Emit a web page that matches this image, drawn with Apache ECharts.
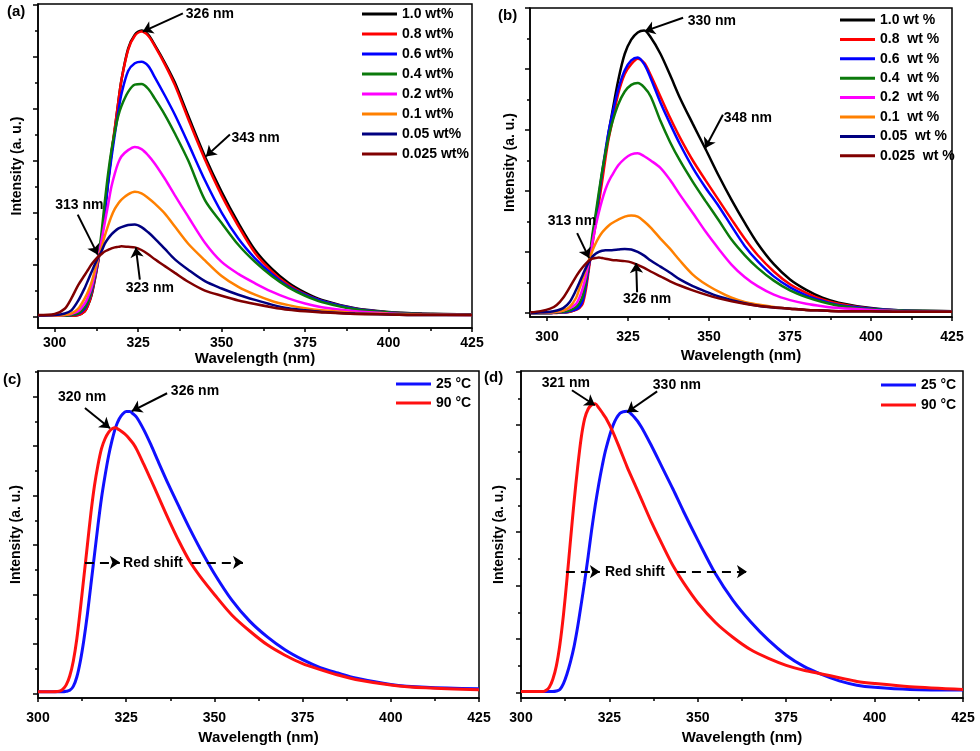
<!DOCTYPE html>
<html>

<head>
  <meta charset="utf-8" />
  <title>PL spectra</title>
  <script src="https://cdn.jsdelivr.net/npm/echarts@6.0.0/dist/echarts.min.js"></script>
  <style>
    body {
      margin: 0;
      background-color: #ffffff;
    }
  </style>
</head>

<body>
  <div id="main" style="width: 980px;height:751px;"></div>
  <script type="text/javascript">
    // ---- data (intensity in arbitrary units, 1 = one major tick) ----
    var xTicks = [300, 325, 350, 375, 400, 425];
    var xMinorTicks = [312.5, 337.5, 362.5, 387.5, 412.5];
    var yTicksA = [0, 1, 2, 3, 4, 5, 6];
    var yMinorA = [0.5, 1.5, 2.5, 3.5, 4.5, 5.5];
    var yTicksB = [0, 1, 2, 3, 4, 5];
    var yMinorB = [0.5, 1.5, 2.5, 3.5, 4.5];
    var yTicksC = [0, 1, 2, 3, 4, 5, 6];
    var yMinorC = [0.5, 1.5, 2.5, 3.5, 4.5, 5.5, 6.5];
    var yTicksD = [0, 1, 2, 3, 4, 5, 6];
    var yMinorD = [0.5, 1.5, 2.5, 3.5, 4.5, 5.5];

    var namesA = ['1.0 wt%', '0.8 wt%', '0.6 wt%', '0.4 wt%', '0.2 wt%', '0.1 wt%', '0.05 wt%', '0.025 wt%'];
    var namesB = ['1.0 wt %', '0.8  wt %', '0.6  wt %', '0.4  wt %', '0.2  wt %', '0.1  wt %', '0.05  wt %', '0.025  wt %'];
    var namesT = ['25 °C', '90 °C'];

    // (a)
    var wlA = [295, 300, 303, 305, 307, 309, 310, 311, 312, 313, 314, 315, 316, 317, 318, 319, 320, 322, 324, 326,
      328, 330, 333, 336, 340, 345, 350, 355, 360, 365, 370, 375, 380, 390, 400, 410, 425];
    var a10 = [0.02, 0.02, 0.02, 0.02, 0.03, 0.1, 0.22, 0.4, 0.7, 1.05, 1.45, 2.0, 2.6, 3.13, 3.6, 4.1, 4.55, 5.15, 5.42, 5.5,
      5.42, 5.22, 4.88, 4.5, 3.86, 3.08, 2.4, 1.8, 1.28, 0.92, 0.65, 0.46, 0.32, 0.16, 0.09, 0.06, 0.04];
    var a08 = [0.02, 0.02, 0.02, 0.02, 0.03, 0.1, 0.22, 0.42, 0.72, 1.05, 1.48, 2.05, 2.62, 3.15, 3.62, 4.1, 4.55, 5.13, 5.4, 5.48,
      5.4, 5.2, 4.85, 4.45, 3.8, 3.02, 2.33, 1.74, 1.22, 0.87, 0.61, 0.43, 0.3, 0.15, 0.08, 0.05, 0.04];
    var a06 = [0.02, 0.02, 0.02, 0.03, 0.05, 0.15, 0.28, 0.47, 0.75, 1.08, 1.5, 2.0, 2.55, 3.05, 3.5, 3.92, 4.28, 4.72, 4.87, 4.9,
      4.82, 4.6, 4.25, 3.88, 3.33, 2.62, 2.0, 1.5, 1.12, 0.82, 0.58, 0.42, 0.3, 0.15, 0.08, 0.05, 0.04];
    var a04 = [0.02, 0.02, 0.02, 0.03, 0.06, 0.18, 0.3, 0.5, 0.8, 1.12, 1.6, 2.2, 2.75, 3.2, 3.55, 3.85, 4.05, 4.32, 4.46, 4.47,
      4.38, 4.19, 3.88, 3.52, 3.0, 2.24, 1.8, 1.38, 1.05, 0.78, 0.56, 0.4, 0.28, 0.14, 0.08, 0.05, 0.04];
    var a02 = [0.02, 0.02, 0.03, 0.05, 0.1, 0.25, 0.38, 0.55, 0.82, 1.12, 1.45, 1.8, 2.15, 2.5, 2.75, 2.95, 3.08, 3.2, 3.26, 3.22,
      3.1, 2.94, 2.65, 2.33, 1.92, 1.42, 1.05, 0.82, 0.64, 0.48, 0.35, 0.25, 0.18, 0.1, 0.06, 0.04, 0.03];
    var a01 = [0.02, 0.02, 0.03, 0.06, 0.15, 0.35, 0.48, 0.65, 0.88, 1.12, 1.32, 1.55, 1.75, 1.93, 2.07, 2.17, 2.25, 2.35, 2.4, 2.37,
      2.28, 2.17, 1.98, 1.73, 1.4, 1.08, 0.78, 0.57, 0.42, 0.3, 0.22, 0.16, 0.12, 0.07, 0.05, 0.04, 0.03];
    var a005 = [0.02, 0.03, 0.06, 0.12, 0.3, 0.55, 0.7, 0.85, 1.0, 1.13, 1.25, 1.4, 1.5, 1.58, 1.64, 1.69, 1.72, 1.76, 1.77, 1.72,
      1.62, 1.5, 1.3, 1.1, 0.9, 0.68, 0.54, 0.42, 0.32, 0.23, 0.16, 0.12, 0.09, 0.06, 0.04, 0.03, 0.03];
    var a0025 = [0.03, 0.05, 0.15, 0.35, 0.6, 0.8, 0.9, 1.0, 1.08, 1.15, 1.2, 1.25, 1.28, 1.31, 1.33, 1.34, 1.35, 1.34, 1.33, 1.28,
      1.2, 1.1, 0.97, 0.84, 0.67, 0.5, 0.4, 0.31, 0.24, 0.18, 0.13, 0.1, 0.08, 0.05, 0.04, 0.03, 0.03];

    // (b)
    var wlB = [295, 298, 301, 303, 305, 307, 309, 310, 311, 312, 313, 314, 315, 316, 317, 318, 319, 320, 322, 324,
      326, 328, 330, 332, 335, 338, 341, 345, 349, 353, 357, 361, 365, 370, 375, 380, 385, 390, 400, 410, 425];
    var b10 = [0, 0, 0, 0.01, 0.01, 0.02, 0.06, 0.1, 0.22, 0.45, 0.8, 1.18, 1.5, 1.88, 2.27, 2.6, 2.95, 3.25, 3.82, 4.25,
      4.48, 4.6, 4.63, 4.52, 4.25, 3.9, 3.53, 3.1, 2.68, 2.25, 1.85, 1.48, 1.14, 0.8, 0.55, 0.38, 0.25, 0.17, 0.08, 0.04, 0.02];
    var b08 = [0, 0, 0, 0, 0.01, 0.02, 0.05, 0.08, 0.15, 0.38, 0.75, 1.12, 1.45, 1.8, 2.15, 2.52, 2.85, 3.1, 3.6, 3.92,
      4.08, 4.17, 4.1, 3.9, 3.55, 3.2, 2.88, 2.5, 2.17, 1.85, 1.53, 1.22, 0.95, 0.68, 0.47, 0.33, 0.22, 0.15, 0.07, 0.04, 0.03];
    var b06 = [0, 0, 0, 0.01, 0.01, 0.03, 0.06, 0.1, 0.2, 0.45, 0.8, 1.22, 1.55, 1.92, 2.3, 2.65, 2.97, 3.22, 3.67, 3.98,
      4.14, 4.19, 4.08, 3.85, 3.45, 3.1, 2.77, 2.38, 2.05, 1.75, 1.42, 1.1, 0.85, 0.6, 0.42, 0.29, 0.2, 0.13, 0.07, 0.04, 0.03];
    var b04 = [0, 0, 0, 0.01, 0.02, 0.04, 0.1, 0.16, 0.28, 0.52, 0.85, 1.28, 1.62, 1.98, 2.32, 2.62, 2.88, 3.1, 3.42, 3.63,
      3.74, 3.77, 3.7, 3.55, 3.15, 2.8, 2.5, 2.15, 1.83, 1.52, 1.2, 0.95, 0.74, 0.53, 0.37, 0.26, 0.18, 0.12, 0.06, 0.04, 0.03];
    var b02 = [0, 0.01, 0.01, 0.02, 0.04, 0.08, 0.15, 0.25, 0.4, 0.6, 0.87, 1.15, 1.42, 1.65, 1.85, 2.02, 2.15, 2.25, 2.42, 2.53,
      2.6, 2.62, 2.57, 2.5, 2.38, 2.18, 1.94, 1.64, 1.33, 1.05, 0.79, 0.59, 0.44, 0.3, 0.21, 0.15, 0.11, 0.08, 0.05, 0.03, 0.02];
    var b01 = [0, 0.01, 0.01, 0.02, 0.04, 0.1, 0.25, 0.4, 0.55, 0.72, 0.88, 1.02, 1.14, 1.24, 1.32, 1.38, 1.43, 1.47, 1.53, 1.58,
      1.6, 1.58, 1.5, 1.4, 1.22, 1.05, 0.86, 0.63, 0.47, 0.35, 0.25, 0.18, 0.14, 0.1, 0.07, 0.05, 0.04, 0.03, 0.03, 0.02, 0.02];
    var b005 = [0, 0.01, 0.02, 0.04, 0.08, 0.18, 0.38, 0.5, 0.62, 0.74, 0.84, 0.92, 0.97, 1.0, 1.02, 1.03, 1.03, 1.03, 1.04, 1.05,
      1.04, 1.0, 0.94, 0.86, 0.76, 0.66, 0.55, 0.44, 0.35, 0.27, 0.21, 0.16, 0.12, 0.09, 0.07, 0.05, 0.04, 0.03, 0.03, 0.02, 0.02];
    var b0025 = [0.01, 0.03, 0.07, 0.13, 0.25, 0.42, 0.6, 0.68, 0.75, 0.81, 0.86, 0.89, 0.9, 0.91, 0.9, 0.89, 0.88, 0.87, 0.86, 0.85,
      0.83, 0.79, 0.74, 0.68, 0.6, 0.52, 0.45, 0.37, 0.3, 0.24, 0.19, 0.15, 0.12, 0.09, 0.07, 0.05, 0.04, 0.03, 0.03, 0.02, 0.02];

    // (c)
    var wlC = [300, 303, 306, 307, 308, 309, 310, 311, 312, 313, 314, 315, 316, 317, 318, 319, 320, 321, 322, 323,
      324, 325, 326, 327, 328, 330, 332, 334, 337, 340, 343, 346, 350, 355, 360, 365, 370, 375, 380, 385, 390, 400, 410, 425];
    var c25 = [0.03, 0.03, 0.03, 0.03, 0.04, 0.06, 0.14, 0.33, 0.65, 1.08, 1.6, 2.2, 2.8, 3.4, 3.95, 4.4, 4.8, 5.12, 5.38, 5.55,
      5.65, 5.7, 5.7, 5.65, 5.58, 5.33, 5.03, 4.7, 4.22, 3.77, 3.33, 2.92, 2.42, 1.88, 1.46, 1.14, 0.88, 0.68, 0.52, 0.41, 0.31, 0.18, 0.12, 0.09];
    var c90 = [0.03, 0.03, 0.04, 0.08, 0.17, 0.35, 0.65, 1.1, 1.7, 2.35, 3.0, 3.65, 4.2, 4.62, 4.95, 5.15, 5.28, 5.35, 5.37, 5.33,
      5.28, 5.22, 5.14, 5.05, 4.93, 4.63, 4.32, 4.0, 3.52, 3.07, 2.67, 2.36, 2.0, 1.58, 1.26, 0.98, 0.77, 0.6, 0.48, 0.37, 0.28, 0.17, 0.11, 0.07];

    // (d)
    var wlD = [300, 303, 306, 307, 308, 309, 310, 311, 312, 313, 314, 315, 316, 317, 318, 319, 320, 321, 322, 323,
      324, 326, 328, 330, 332, 334, 337, 340, 343, 346, 350, 355, 360, 365, 370, 375, 380, 385, 390, 395, 400, 410, 425];
    var d25 = [0.02, 0.02, 0.02, 0.02, 0.02, 0.02, 0.03, 0.06, 0.17, 0.35, 0.58, 0.86, 1.22, 1.64, 2.08, 2.55, 3.05, 3.5, 3.9, 4.25,
      4.55, 4.99, 5.22, 5.26, 5.15, 4.97, 4.6, 4.2, 3.8, 3.38, 2.85, 2.22, 1.72, 1.32, 0.98, 0.7, 0.49, 0.34, 0.22, 0.14, 0.1, 0.06, 0.05];
    var d90 = [0.02, 0.02, 0.02, 0.04, 0.1, 0.25, 0.5, 0.9, 1.45, 2.12, 2.85, 3.56, 4.2, 4.75, 5.12, 5.3, 5.38, 5.4, 5.32, 5.23,
      5.13, 4.87, 4.55, 4.22, 3.92, 3.62, 3.17, 2.76, 2.37, 2.05, 1.68, 1.31, 1.03, 0.8, 0.64, 0.51, 0.42, 0.35, 0.28, 0.21, 0.17, 0.11, 0.06];

    // annotations: [x, y, text] and arrows [[from], [to]] in data units
    var notesA = [[346.5, 5.81, '326 nm'], [360.2, 3.44, '343 nm'], [307.4, 2.15, '313 nm'], [328.5, 0.55, '323 nm']];
    var arrowsA = [[[338.4, 5.83], [326.4, 5.48]], [[352.5, 3.5], [345.3, 3.08]], [[306.9, 1.96], [312.9, 1.19]], [[325.5, 0.71], [324.3, 1.33]]];
    var notesB = [[350.9, 4.79, '330 nm'], [362, 3.2, '348 nm'], [307.7, 1.51, '313 nm'], [330.9, 0.23, '326 nm']];
    var arrowsB = [[[342, 4.84], [330.2, 4.62]], [[354.3, 3.25], [348.8, 2.7]], [[309.3, 1.31], [313, 0.9]], [[327.8, 0.34], [327.5, 0.82]]];
    var notesC = [[312.5, 5.99, '320 nm'], [344.5, 6.11, '326 nm'], [332.6, 2.63, 'Red shift']];
    var arrowsC = [[[313.3, 5.77], [320.4, 5.36]], [[336.6, 6.07], [326.6, 5.71]]];
    var shiftC = [[[313.3, 2.65], [323.2, 2.65]], [[343.6, 2.65], [358.1, 2.65]]];
    var notesD = [[312.7, 5.78, '321 nm'], [344.1, 5.75, '330 nm'], [332.2, 2.26, 'Red shift']];
    var arrowsD = [[[314.4, 5.65], [320.9, 5.37]], [[338.5, 5.63], [330, 5.24]]];
    var shiftD = [[[312.7, 2.26], [322.3, 2.26]], [[344.1, 2.26], [363.9, 2.26]]];

    // ---- styling ----
    var FONT = '"Liberation Sans", Arial, sans-serif';
    var concColors = ['#000000', '#ff0000', '#0000ff', '#0b7a0b', '#ff00ff', '#ff8000', '#000080', '#800000'];
    var tempColors = ['#1010ff', '#ff1010'];
    var black = { color: '#000', width: 1.5 };

    var panels = [
      { grid: { left: 38, top: 4, width: 434, height: 324 }, xMin: 295, xMax: 425, yMin: -0.22, yMax: 6.01,
        yTicks: yTicksA, yMinor: yMinorA, labelMargin: 8, xNameGap: 23, yNameGap: 14 },
      { grid: { left: 530, top: 8, width: 422, height: 309 }, xMin: 294.75, xMax: 425, yMin: -0.066, yMax: 5.0,
        yTicks: yTicksB, yMinor: yMinorB, labelMargin: 13, xNameGap: 31, yNameGap: 13 },
      { grid: { left: 38, top: 371, width: 441, height: 327 }, xMin: 300, xMax: 425, yMin: -0.095, yMax: 6.52,
        yTicks: yTicksC, yMinor: yMinorC, labelMargin: 13, xNameGap: 32, yNameGap: 15 },
      { grid: { left: 521, top: 371, width: 442, height: 327 }, xMin: 300, xMax: 425, yMin: -0.1, yMax: 6.01,
        yTicks: yTicksD, yMinor: yMinorD, labelMargin: 13, xNameGap: 32, yNameGap: 15 }
    ];

    function pairs(xs, ys) {
      return xs.map(function (x, i) { return [x, ys[i]]; });
    }

    function curve(name, g, xs, ys, color, width) {
      return {
        type: 'line', name: name, xAxisIndex: g, yAxisIndex: g,
        data: pairs(xs, ys), symbol: 'none', showSymbol: false, smooth: 0.3,
        lineStyle: { color: color, width: width }, itemStyle: { color: color },
        silent: true
      };
    }

    // text labels through markPoint, arrows through markLine
    function notes(g, texts, arrows, dashed) {
      var lines = arrows.map(function (a) { return [{ coord: a[0] }, { coord: a[1] }]; });
      (dashed || []).forEach(function (a) {
        lines.push([{ coord: a[0], lineStyle: { type: [9, 6], width: 2 } }, { coord: a[1] }]);
      });
      return {
        type: 'line', xAxisIndex: g, yAxisIndex: g, data: [], silent: true,
        markPoint: {
          silent: true, symbol: 'rect', symbolSize: 1,
          itemStyle: { color: 'rgba(0,0,0,0)' },
          label: {
            show: true, position: 'inside', formatter: '{b}', color: '#000', opacity: 1,
            textBorderWidth: 0, fontSize: 14, fontWeight: 'bold', fontFamily: FONT
          },
          data: texts.map(function (t) { return { name: t[2], coord: [t[0], t[1]] }; })
        },
        markLine: {
          silent: true, symbol: ['none', 'arrow'], symbolSize: 10, label: { show: false },
          lineStyle: { color: '#000', width: 2, type: 'solid', opacity: 1 }, data: lines
        },
        z: 5
      };
    }

    var grids = [], xMajor = [], xMinor = [], yMajor = [], yMinor = [];
    panels.forEach(function (p, g) {
      grids.push(Object.assign({ show: true, borderColor: '#000', borderWidth: 1.5, outerBoundsMode: 'none' }, p.grid));
      xMajor.push({
        gridIndex: g, type: 'value', min: p.xMin, max: p.xMax, position: 'bottom',
        name: 'Wavelength (nm)', nameLocation: 'middle', nameGap: p.xNameGap,
        nameTextStyle: { color: '#000', fontSize: 15, fontWeight: 'bold', fontFamily: FONT },
        axisLine: { show: true, onZero: false, lineStyle: black },
        axisTick: { show: true, customValues: xTicks, length: 4, lineStyle: black },
        axisLabel: { show: true, customValues: xTicks, margin: p.labelMargin, color: '#000', fontSize: 14, fontWeight: 'bold', fontFamily: FONT },
        splitLine: { show: false }
      });
      xMinor.push({
        gridIndex: g, type: 'value', min: p.xMin, max: p.xMax, position: 'bottom',
        axisLine: { show: false, onZero: false },
        axisTick: { show: true, customValues: xMinorTicks, length: 3, lineStyle: black },
        axisLabel: { show: false }, splitLine: { show: false }
      });
      yMajor.push({
        gridIndex: g, type: 'value', min: p.yMin, max: p.yMax, position: 'left',
        name: 'Intensity (a. u.)', nameLocation: 'middle', nameGap: p.yNameGap, nameRotate: 90,
        nameTextStyle: { color: '#000', fontSize: 14, fontWeight: 'bold', fontFamily: FONT },
        axisLine: { show: true, onZero: false, lineStyle: black },
        axisTick: { show: true, customValues: p.yTicks, length: 5, lineStyle: black },
        axisLabel: { show: false }, splitLine: { show: false }
      });
      yMinor.push({
        gridIndex: g, type: 'value', min: p.yMin, max: p.yMax, position: 'left',
        axisLine: { show: false, onZero: false },
        axisTick: { show: true, customValues: p.yMinor, length: 3, lineStyle: black },
        axisLabel: { show: false }, splitLine: { show: false }
      });
    });

    var series = [];
    var dataA = [a10, a08, a06, a04, a02, a01, a005, a0025];
    var dataB = [b10, b08, b06, b04, b02, b01, b005, b0025];
    namesA.forEach(function (n, i) { series.push(curve(n, 0, wlA, dataA[i], concColors[i], 2.5)); });
    namesB.forEach(function (n, i) { series.push(curve(n, 1, wlB, dataB[i], concColors[i], 2.5)); });
    series.push(curve(namesT[0], 2, wlC, c25, tempColors[0], 3));
    series.push(curve(namesT[1], 2, wlC, c90, tempColors[1], 3));
    series.push(curve(namesT[0], 3, wlD, d25, tempColors[0], 3));
    series.push(curve(namesT[1], 3, wlD, d90, tempColors[1], 3));
    series.push(notes(0, notesA, arrowsA));
    series.push(notes(1, notesB, arrowsB));
    series.push(notes(2, notesC, arrowsC, shiftC));
    series.push(notes(3, notesD, arrowsD, shiftD));

    function legend(names, left, top, gap) {
      return {
        data: names, orient: 'vertical', left: left, top: top, padding: 0,
        itemWidth: 35, itemHeight: 3, icon: 'rect', itemGap: gap, selectedMode: false,
        textStyle: { color: '#000', fontSize: 14, fontWeight: 'bold', fontFamily: FONT, lineHeight: 16 }
      };
    }

    function tag(text, left, top) {
      return { type: 'text', left: left, top: top, style: { text: text, font: 'bold 15px ' + FONT, fill: '#000' } };
    }

    var myChart = echarts.init(document.getElementById('main'));
    myChart.setOption({
      backgroundColor: '#ffffff',
      animation: false,
      grid: grids,
      xAxis: xMajor.concat(xMinor),
      yAxis: yMajor.concat(yMinor),
      legend: [
        legend(namesA, 362, 6, 4),
        legend(namesB, 840, 12, 3.4),
        legend(namesT, 396, 376, 3),
        legend(namesT, 881, 377, 4)
      ],
      graphic: [tag('(a)', 7, 4), tag('(b)', 498, 8), tag('(c)', 3, 372), tag('(d)', 484, 370)],
      series: series
    });
  </script>
</body>

</html>
